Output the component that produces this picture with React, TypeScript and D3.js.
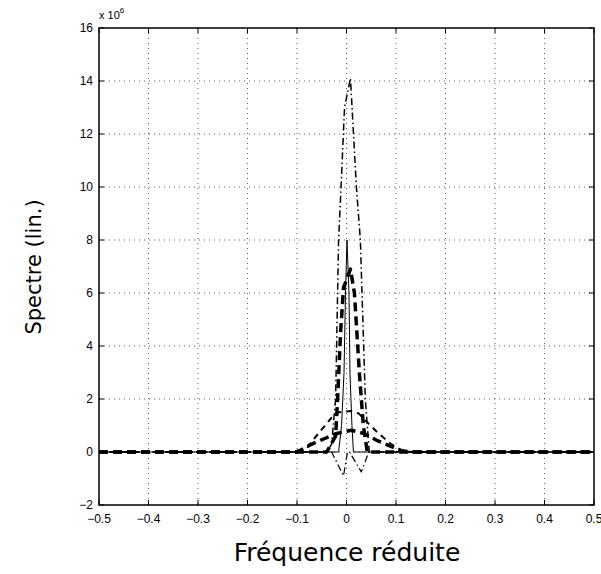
import React from "react";
import * as d3 from "d3";

// Tick values
const xTicks = [-0.5, -0.4, -0.3, -0.2, -0.1, 0, 0.1, 0.2, 0.3, 0.4, 0.5];
const yTicks = [-2, 0, 2, 4, 6, 8, 10, 12, 14, 16];

// Series (frequency, value in units of 1e6)
const peakDashDotF = [-0.5, -0.2, -0.1, -0.04, -0.03, -0.022, -0.016, -0.011, -0.004, 0.008, 0.02, 0.028, 0.038, 0.046, 0.1, 0.2, 0.5];
const peakDashDotV = [0, 0, 0, 0, 0.3, 2, 8, 10, 13, 14.1, 10, 8, 2, 0, 0, 0, 0];

const negDashDotF = [-0.5, -0.1, -0.04, -0.03, -0.006, 0.002, 0.006, 0.03, 0.045, 0.1, 0.5];
const negDashDotV = [0, 0, 0, 0, -0.9, 0, 0, -0.75, 0, 0, 0];

const solidF = [-0.5, -0.1, -0.016, -0.01, -0.005, -0.002, 0.001, 0.005, 0.007, 0.011, 0.014, 0.1, 0.5];
const solidV = [0, 0, 0, 1.0, 3, 6, 8, 6, 3, 1, 0, 0, 0];

const thickPeakF = [-0.5, -0.2, -0.04, -0.022, -0.018, -0.012, -0.006, 0.008, 0.016, 0.026, 0.034, 0.042, 0.2, 0.5];
const thickPeakV = [0, 0, 0, 0.6, 2, 4.5, 6.2, 6.9, 6, 3, 1, 0, 0, 0];

const broadDashF = [-0.5, -0.2, -0.11, -0.08, -0.07, -0.05, -0.03, -0.015, 0.008, 0.025, 0.04, 0.062, 0.09, 0.11, 0.13, 0.2, 0.5];
const broadDashV = [0, 0, 0, 0.15, 0.4, 0.85, 1.3, 1.5, 1.55, 1.45, 1.15, 0.75, 0.3, 0.08, 0, 0, 0];

const broadThickF = [-0.5, -0.2, -0.1, -0.07, -0.045, -0.02, 0.01, 0.035, 0.06, 0.085, 0.11, 0.13, 0.2, 0.5];
const broadThickV = [0, 0, 0, 0.3, 0.5, 0.7, 0.82, 0.7, 0.45, 0.25, 0.05, 0, 0, 0];

const xLabel = "Fréquence réduite";
const yLabel = "Spectre (lin.)";

const W = 601;
const H = 574;
const left = 99;
const right = 594;
const top = 28;
const bottom = 505;

export default function App() {
  const x = d3.scaleLinear().domain([-0.5, 0.5]).range([left, right]);
  const y = d3.scaleLinear().domain([-2, 16]).range([bottom, top]);
  const line = d3
    .line<[number, number]>()
    .x((d) => x(d[0]))
    .y((d) => y(d[1]));
  const zip = (f: number[], v: number[]) => f.map((d, i) => [d, v[i]] as [number, number]);
  const fmt = (d: number) => d3.format("")(d);

  const series = [
    { d: zip(broadThickF, broadThickV), w: 3.5, dash: "9,5" },
    { d: zip(broadDashF, broadDashV), w: 2, dash: "6,5" },
    { d: zip(thickPeakF, thickPeakV), w: 3.5, dash: "9,5" },
    { d: zip(negDashDotF, negDashDotV), w: 1.2, dash: "7,3,1.5,3" },
    { d: zip(solidF, solidV), w: 1, dash: "none" },
    { d: zip(peakDashDotF, peakDashDotV), w: 1.5, dash: "7,3,1.5,3" },
  ];

  return (
    <svg width={W} height={H} style={{ position: "absolute", left: 0, top: 0, background: "#fff" }}>
      <rect x={0} y={0} width={W} height={H} fill="#fff" />
      {/* grid */}
      {xTicks.slice(1, -1).map((t) => (
        <line key={"gx" + t} x1={x(t)} x2={x(t)} y1={top} y2={bottom} stroke="#333" strokeWidth={0.8} strokeDasharray="1,4" />
      ))}
      {yTicks.slice(1, -1).map((t) => (
        <line key={"gy" + t} x1={left} x2={right} y1={y(t)} y2={y(t)} stroke="#333" strokeWidth={0.8} strokeDasharray="1,4" />
      ))}
      {/* curves */}
      {series.map((s, i) => (
        <path key={i} d={line(s.d) || ""} fill="none" stroke="#000" strokeWidth={s.w} strokeDasharray={s.dash} strokeLinejoin="round" />
      ))}
      {/* ticks */}
      {xTicks.map((t) => (
        <g key={"tx" + t}>
          <line x1={x(t)} x2={x(t)} y1={bottom} y2={bottom - 5} stroke="#000" />
          <line x1={x(t)} x2={x(t)} y1={top} y2={top + 5} stroke="#000" />
          <text x={x(t)} y={523} textAnchor="middle" fontFamily="Liberation Sans, Arial, sans-serif" fontSize={12}>
            {fmt(t)}
          </text>
        </g>
      ))}
      {yTicks.map((t) => (
        <g key={"ty" + t}>
          <line x1={left} x2={left + 5} y1={y(t)} y2={y(t)} stroke="#000" />
          <line x1={right} x2={right - 5} y1={y(t)} y2={y(t)} stroke="#000" />
          <text x={93} y={y(t) + 4} textAnchor="end" fontFamily="Liberation Sans, Arial, sans-serif" fontSize={12}>
            {fmt(t)}
          </text>
        </g>
      ))}
      {/* frame */}
      <rect x={left} y={top} width={right - left} height={bottom - top} fill="none" stroke="#000" strokeWidth={1.5} />
      {/* exponent */}
      <text x={99} y={19} fontFamily="Liberation Sans, Arial, sans-serif" fontSize={11}>
        x 10
        <tspan dy={-6} fontSize={8}>6</tspan>
      </text>
      {/* axis labels */}
      <text x={347} y={561} textAnchor="middle" fontFamily="DejaVu Sans, sans-serif" fontSize={25}>
        {xLabel}
      </text>
      <text transform={`translate(41,267) rotate(-90)`} textAnchor="middle" fontFamily="DejaVu Sans, sans-serif" fontSize={21}>
        {yLabel}
      </text>
    </svg>
  );
}
